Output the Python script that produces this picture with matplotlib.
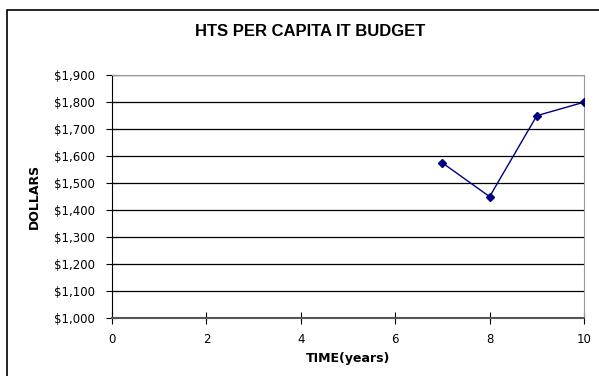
import matplotlib.pyplot as plt
from matplotlib.patches import Rectangle
from matplotlib.ticker import FuncFormatter, MultipleLocator

plt.rcParams['font.family'] = ['DejaVu Sans']

# data
years = [7, 8, 9, 10]
budget = [1575, 1450, 1750, 1800]

fig = plt.figure(figsize=(5.99, 3.76), dpi=100)
ax = fig.add_axes([0.187, 0.154, 0.788, 0.646])

# outer chart border (only left/top visible inside the image)
fig.patches.append(Rectangle((7 / 599, -0.05), 1.2, 1 - 10 / 376 + 0.05,
                             transform=fig.transFigure, fill=False,
                             edgecolor='black', linewidth=1.2))

ax.plot(years, budget, color='#000080', linewidth=1, marker='D',
        markersize=4.5, zorder=3)

ax.set_xlim(0, 10)
ax.set_ylim(1000, 1900)
ax.xaxis.set_major_locator(MultipleLocator(2))
ax.yaxis.set_major_locator(MultipleLocator(100))
ax.yaxis.set_major_formatter(FuncFormatter(lambda v, p: f"${v:,.0f}"))

ax.grid(True, axis='y', color='black', linewidth=0.9)
ax.set_axisbelow(True)
ax.spines['top'].set_color('#999999')
ax.spines['right'].set_color('#999999')
ax.spines['left'].set_color('black')
ax.spines['bottom'].set_color('#555555')
ax.spines['bottom'].set_linewidth(1.5)

ax.tick_params(axis='both', direction='inout', length=8, width=0.8,
               labelsize=8.5, colors='black')
ax.tick_params(axis='y', pad=8)
ax.tick_params(axis='x', pad=7)

fig.text(310 / 599, 1 - 31 / 376, "HTS PER CAPITA IT BUDGET",
         family='Liberation Sans', fontsize=12, fontweight='bold',
         ha='center', va='center')
ax.set_xlabel("TIME(years)", fontsize=9, fontweight='bold', labelpad=4)
ax.set_ylabel("DOLLARS", fontsize=9, fontweight='bold', labelpad=10)

fig.savefig("out.png", dpi=100)
